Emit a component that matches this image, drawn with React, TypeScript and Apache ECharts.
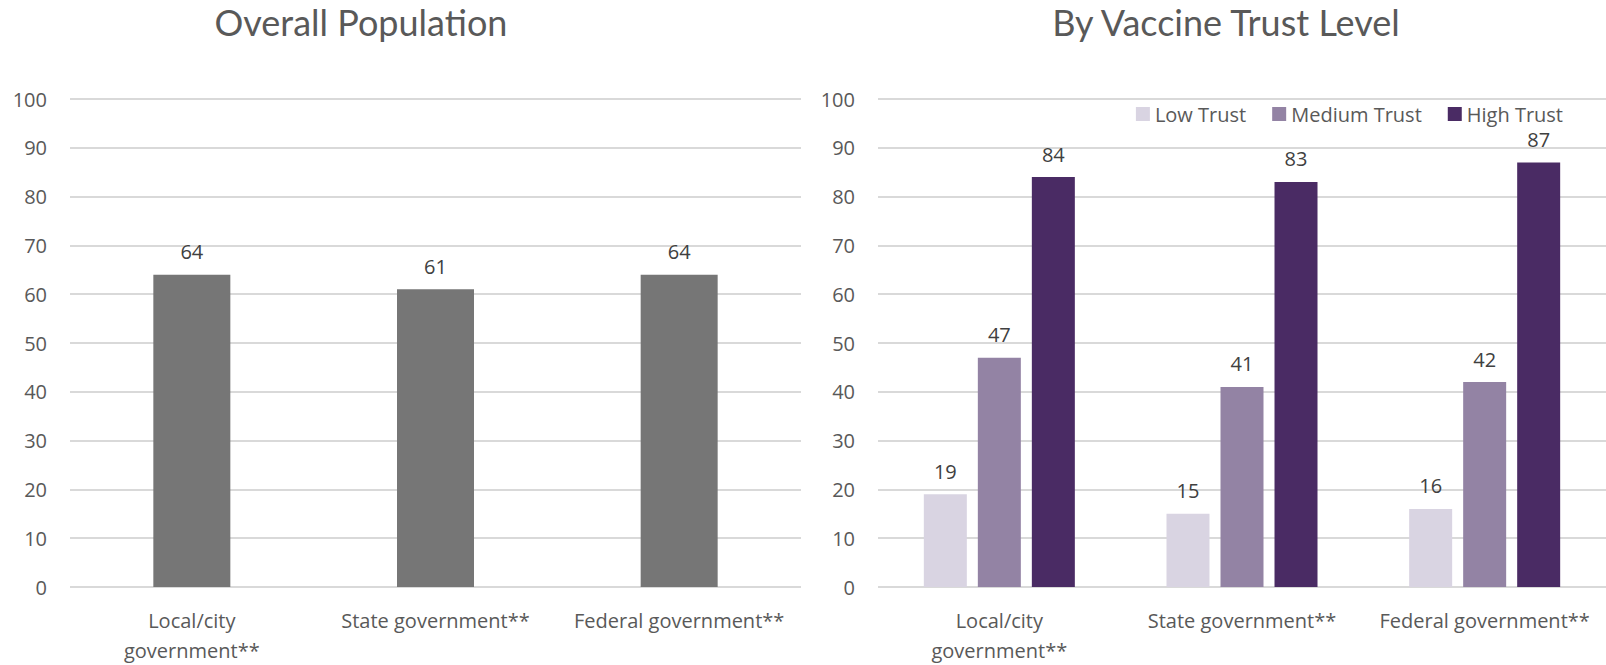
import React, { useEffect, useRef } from "react";
import * as echarts from "echarts";

const categories = ["Local/city\ngovernment**", "State government**", "Federal government**"];
const overallValues = [64, 61, 64];
const seriesNames = ["Low Trust", "Medium Trust", "High Trust"];
const lowTrust = [19, 15, 16];
const mediumTrust = [47, 41, 42];
const highTrust = [84, 83, 87];
const titles = ["Overall Population", "By Vaccine Trust Level"];

const FONT = "'Open Sans', sans-serif";
const AXIS_COLOR = "#595959";
const LABEL_COLOR = "#404040";
const GRID_COLOR = "#d9d9d9";
const COLORS = ["#d9d4e2", "#9383a4", "#4a2b64"];

export default function App() {
  const ref = useRef<HTMLDivElement>(null);
  useEffect(() => {
    if (!ref.current) return;
    const chart = echarts.init(ref.current, null, { renderer: "svg" });
    const yAxisCommon = (gridIndex: number) => ({
      type: "value",
      gridIndex,
      min: 0,
      max: 100,
      interval: 10,
      axisLine: { show: false },
      axisTick: { show: false },
      axisLabel: { color: AXIS_COLOR, fontSize: 20, fontFamily: FONT, margin: 23 },
      splitLine: { lineStyle: { color: GRID_COLOR, width: 2 } },
    });
    const xAxisCommon = (gridIndex: number) => ({
      type: "category",
      gridIndex,
      data: categories,
      axisLine: { show: false },
      axisTick: { show: false },
      axisLabel: {
        color: AXIS_COLOR,
        fontSize: 20,
        fontFamily: FONT,
        lineHeight: 30,
        margin: 18,
        interval: 0,
      },
    });
    const dataLabel = {
      show: true,
      position: "top",
      distance: 13,
      color: LABEL_COLOR,
      fontSize: 20,
      lineHeight: 20,
      fontFamily: FONT,
    };
    const trustData = [lowTrust, mediumTrust, highTrust];
    chart.setOption({
      animation: false,
      backgroundColor: "#ffffff",
      graphic: [
        {
          type: "text",
          x: 361,
          y: 22,
          style: {
            text: titles[0],
            fill: AXIS_COLOR,
            fontSize: 36,
            fontFamily: "Lato, sans-serif",
            align: "center",
            verticalAlign: "middle",
          },
        },
        {
          type: "text",
          x: 1226,
          y: 22,
          style: {
            text: titles[1],
            fill: AXIS_COLOR,
            fontSize: 36,
            fontFamily: "Lato, sans-serif",
            align: "center",
            verticalAlign: "middle",
          },
        },
      ],
      legend: {
        data: seriesNames,
        right: 43,
        top: 104,
        icon: "rect",
        itemWidth: 14,
        itemHeight: 14,
        itemGap: 26,
        padding: 0,
        textStyle: { color: AXIS_COLOR, fontSize: 20, lineHeight: 20, fontFamily: FONT },
      },
      grid: [
        { left: 70, right: 805, top: 99, bottom: 73 },
        { left: 878, right: -3, top: 99, bottom: 73 },
      ],
      xAxis: [xAxisCommon(0), xAxisCommon(1)],
      yAxis: [yAxisCommon(0), yAxisCommon(1)],
      series: [
        {
          type: "bar",
          name: "Overall",
          xAxisIndex: 0,
          yAxisIndex: 0,
          data: overallValues,
          barWidth: 77,
          itemStyle: { color: "#767676" },
          label: dataLabel,
        },
        ...seriesNames.map((name, i) => ({
          type: "bar",
          name,
          xAxisIndex: 1,
          yAxisIndex: 1,
          data: trustData[i],
          barWidth: 43,
          barGap: "25.6%",
          itemStyle: { color: COLORS[i] },
          label: dataLabel,
        })),
      ],
    });
    return () => chart.dispose();
  }, []);
  return (
    <div
      ref={ref}
      style={{ position: "fixed", left: 0, top: 0, width: 1606, height: 665, background: "#fff" }}
    />
  );
}
